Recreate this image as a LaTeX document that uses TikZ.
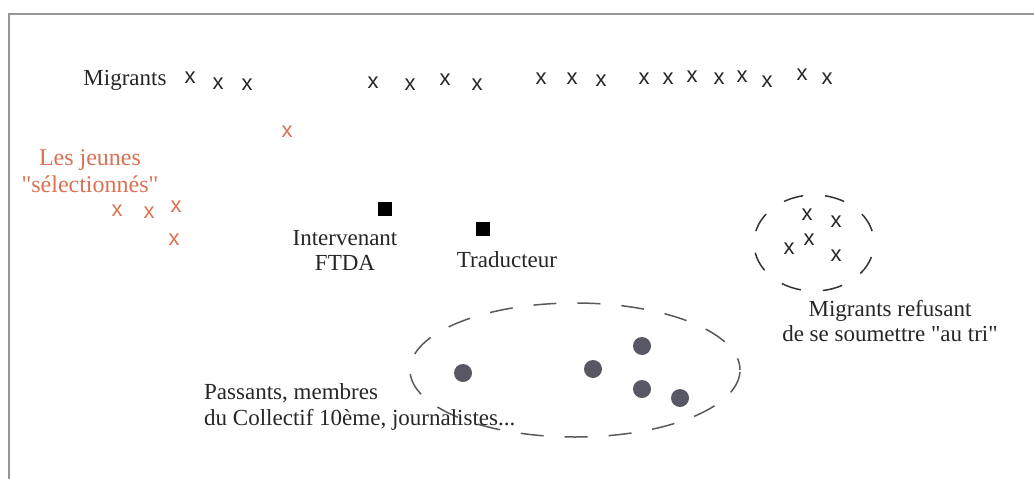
\documentclass[tikz,border=0pt]{standalone}
\usepackage{fontspec}
\usetikzlibrary{shapes.geometric}
\setmainfont{Liberation Serif}
\newfontfamily\xfont{Liberation Sans}
\newfontfamily\qfont{Liberation Serif}
\definecolor{orng}{RGB}{220,112,82}
\definecolor{dotc}{RGB}{88,88,100}
\definecolor{framec}{RGB}{150,150,150}
\newcommand{\qq}{{\qfont"}}
\begin{document}
\begin{tikzpicture}[x=1pt,y=-1pt,
  lbl/.style={inner sep=0pt,font=\fontsize{23}{25}\selectfont,text=black!85},
  mk/.style={inner sep=0pt,font=\xfont\fontsize{22}{22}\selectfont,text=black!85},
  omk/.style={mk,text=orng},
  sq/.style={fill=black,minimum size=14pt,inner sep=0pt},
  dotn/.style={circle,fill=dotc,minimum size=18pt,inner sep=0pt},
  grp/.style={draw=black!80,ellipse,inner sep=0pt,line width=1.5pt}]
\useasboundingbox (0,0) rectangle (1034,479);
\draw[framec,line width=1.2pt] (1034,14) -- (9,14) -- (9,479);
% top row
\node[lbl] (mig) at (125,80) {Migrants};
\foreach \i/\x/\y in {1/190/78,2/218/84,3/247/85,4/373/83,5/410/85,6/445/80,7/477/85,
  8/541/79,9/572/79,10/601/81,11/644/79,12/668/79,13/692/77,14/719/79,15/742/77,16/767/82,17/802/75,18/827/79}
  \node[mk] (m\i) at (\x,\y) {x};
% orange
\node[omk] (o1) at (287,132) {x};
\node[omk] (o2) at (117,211) {x};
\node[omk] (o3) at (149,213) {x};
\node[omk] (o4) at (176,207) {x};
\node[omk] (o5) at (174,240) {x};
\node[lbl,font=\fontsize{24}{27}\selectfont,text=orng,align=center] (jeunes) at (90,171) {Les jeunes\\\qq sélectionnés\qq};
% squares
\node[sq] (s1) at (385,209) {};
\node[sq] (s2) at (483,229) {};
\node[lbl,align=center] (interv) at (345,250) {Intervenant\\FTDA};
\node[lbl] (trad) at (507,260) {Traducteur};
% right group
\node[grp,minimum width=120pt,minimum height=96pt,dash pattern=on 20pt off 22pt,dash phase=-12pt] (rg) at (814,243) {};
\node[mk] (r1) at (807,215) {x};
\node[mk] (r2) at (836,222) {x};
\node[mk] (r3) at (789,249) {x};
\node[mk] (r4) at (809,240) {x};
\node[mk] (r5) at (836,256) {x};
\node[lbl,align=center] (refus) at (890,321) {Migrants refusant\\de se soumettre \qq au tri\qq};
% big group
\node[grp,draw=black!65,minimum width=330pt,minimum height=134pt,dash pattern=on 23pt off 21pt,dash phase=11pt] (bg) at (575,370) {};
\node[dotn] (d1) at (463,373) {};
\node[dotn] (d2) at (593,369) {};
\node[dotn] (d3) at (642,346) {};
\node[dotn] (d4) at (642,389) {};
\node[dotn] (d5) at (680,398) {};
\node[lbl,font=\fontsize{23}{26}\selectfont,align=left,anchor=west] (pass) at (204,407) {Passants, membres\\du Collectif 10ème, journalistes...};
\end{tikzpicture}
\end{document}
